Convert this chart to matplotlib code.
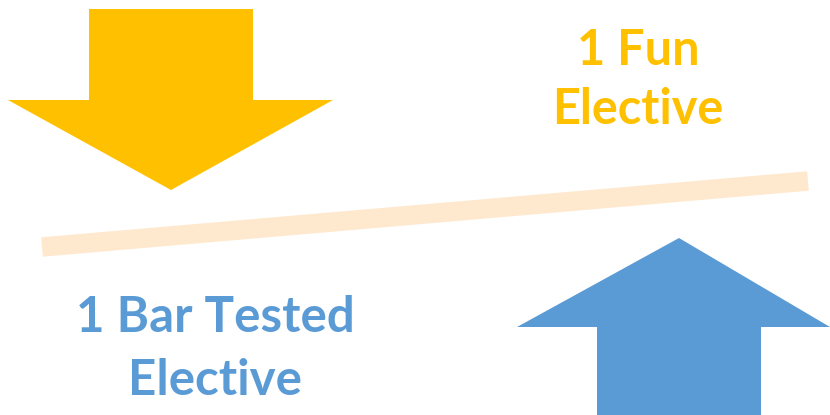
import matplotlib
matplotlib.use('Agg')
import matplotlib.pyplot as plt

# canvas in pixel units (y grows downwards)
W, H = 830, 415

# down arrow (gold), outline points
down_x = [89, 253, 253, 333, 171, 8, 89]
down_y = [9, 9, 100, 100, 190, 100, 100]

# up arrow (blue)
up_x = [597, 597, 517, 679, 830, 761, 761]
up_y = [415, 327, 327, 238, 327, 327, 415]

# balance beam
beam_x = [42, 808]
beam_y = [247, 181]

gold = '#FFC000'
blue = '#5B9BD5'
peach = '#FEE8CE'

fun_lines = ['1 Fun', 'Elective']
fun_x = 638
fun_y = [65, 124]

bar_lines = ['1 Bar Tested', 'Elective']
bar_x = 215
bar_y = [332, 395]

fig = plt.figure(figsize=(8.3, 4.15), dpi=100)
ax = fig.add_axes([0, 0, 1, 1])
ax.set_xlim(0, W)
ax.set_ylim(H, 0)
ax.axis('off')

ax.fill(down_x, down_y, color=gold, lw=0)
ax.fill(up_x, up_y, color=blue, lw=0)
ax.plot(beam_x, beam_y, color=peach, lw=14, solid_capstyle='butt')

for txt, y in zip(fun_lines, fun_y):
    ax.text(fun_x, y, txt, color=gold, fontsize=35, fontweight='bold',
            family='Lato', ha='center', va='baseline')
for txt, y in zip(bar_lines, bar_y):
    ax.text(bar_x, y, txt, color=blue, fontsize=35.5, fontweight='bold',
            family='Lato', ha='center', va='baseline')

fig.savefig('out.png', dpi=100)
